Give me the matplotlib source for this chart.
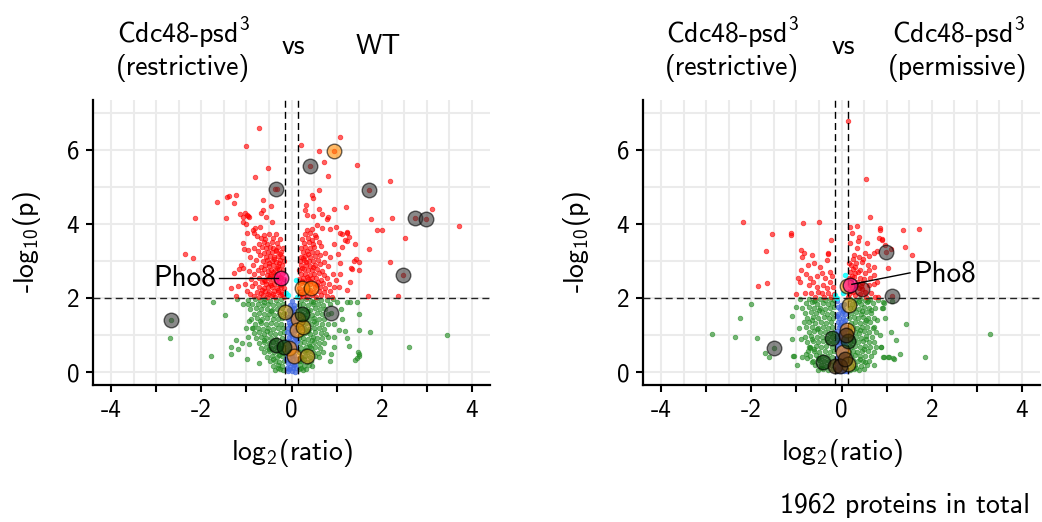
import numpy as np
import matplotlib
matplotlib.use("Agg")
import matplotlib.pyplot as plt
from matplotlib.ticker import MultipleLocator

plt.rcParams['font.family'] = 'cmss10'
plt.rcParams['mathtext.fontset'] = 'custom'
plt.rcParams['mathtext.rm'] = 'cmss10'
plt.rcParams['mathtext.it'] = 'cmss10'
plt.rcParams['axes.unicode_minus'] = False

FC = 0.138  # log2(1.1) fold-change cut-off
PC = 2.0    # -log10(0.01)

# ---------------- restrictive vs WT ----------------
wt_red = [
    # negative arm, outliers
    (-0.72, 6.59), (-1.01, 6.10), (-0.52, 5.50), (-0.82, 5.27), (-0.37, 4.95), (-0.33, 4.95),
    (-1.42, 4.74), (-1.38, 4.75), (-1.24, 4.78), (-1.66, 4.59), (-1.27, 4.56), (-2.14, 4.17),
    (-1.45, 4.17), (-1.14, 4.27), (-0.98, 4.24), (-0.94, 4.18), (-1.08, 4.05), (-1.01, 3.99),
    (-2.36, 3.19), (-2.19, 3.08), (-1.07, 3.48), (-1.06, 3.33), (-0.96, 3.30), (-1.12, 2.90),
    (-1.07, 2.80), (-1.27, 2.67), (-1.18, 2.33), (-1.35, 2.26), (-1.24, 2.05), (-1.16, 2.79),
    (-0.63, 4.65), (-0.45, 4.49), (-0.63, 4.38), (-0.67, 4.29), (-0.57, 4.20), (-1.02, 4.29),
    (-0.97, 4.22), (-1.07, 4.20), (-0.43, 4.06), (-0.69, 3.93), (-0.83, 3.77), (-0.98, 3.75),
    (-0.77, 3.68), (-0.85, 3.85), (-0.80, 3.88),
    # negative arm, core
    (-0.17, 2.04), (-0.26, 2.07), (-0.36, 2.03), (-0.44, 2.06), (-0.55, 2.04), (-0.63, 2.08),
    (-0.72, 2.03), (-0.84, 2.06), (-0.93, 2.10), (-0.20, 2.17), (-0.30, 2.15), (-0.39, 2.19),
    (-0.49, 2.16), (-0.58, 2.18), (-0.68, 2.14), (-0.77, 2.17), (-0.98, 2.20), (-0.16, 2.28),
    (-0.24, 2.30), (-0.33, 2.27), (-0.43, 2.29), (-0.52, 2.31), (-0.61, 2.26), (-0.71, 2.29),
    (-0.88, 2.32), (-0.19, 2.40), (-0.28, 2.42), (-0.38, 2.39), (-0.47, 2.41), (-0.56, 2.38),
    (-0.66, 2.43), (-0.80, 2.40), (-1.02, 2.37), (-0.17, 2.52), (-0.31, 2.55), (-0.41, 2.51),
    (-0.50, 2.53), (-0.60, 2.50), (-0.73, 2.54), (-0.90, 2.52), (-0.21, 2.64), (-0.29, 2.66),
    (-0.37, 2.63), (-0.46, 2.65), (-0.55, 2.62), (-0.65, 2.67), (-0.83, 2.64), (-0.18, 2.76),
    (-0.27, 2.78), (-0.36, 2.75), (-0.45, 2.77), (-0.53, 2.74), (-0.62, 2.79), (-0.74, 2.76),
    (-0.95, 2.73), (-0.22, 2.88), (-0.31, 2.86), (-0.40, 2.89), (-0.50, 2.87), (-0.59, 2.90),
    (-0.68, 2.85), (-0.86, 2.88), (-0.17, 3.00), (-0.26, 3.02), (-0.35, 2.98), (-0.44, 3.01),
    (-0.54, 3.03), (-0.64, 2.99), (-0.78, 3.02), (-0.20, 3.12), (-0.30, 3.14), (-0.39, 3.11),
    (-0.48, 3.13), (-0.57, 3.10), (-0.70, 3.15), (-0.92, 3.12), (-0.24, 3.24), (-0.34, 3.26),
    (-0.43, 3.23), (-0.52, 3.25), (-0.62, 3.22), (-0.75, 3.27), (-0.19, 3.36), (-0.29, 3.38),
    (-0.40, 3.35), (-0.47, 3.37), (-0.56, 3.34), (-0.66, 3.39), (-0.84, 3.36), (-0.32, 3.48),
    (-0.44, 3.50), (-0.55, 3.47), (-0.61, 3.52), (-0.73, 3.46), (-0.26, 3.60), (-0.42, 3.62),
    (-0.58, 3.59), (-0.67, 3.63), (-0.35, 3.72), (-0.50, 3.74), (-0.62, 3.71), (-0.23, 2.53),
    (-0.22, 2.10), (-0.31, 2.22), (-0.41, 2.11), (-0.25, 2.35), (-0.35, 2.46), (-0.45, 2.35),
    (-0.26, 2.58), (-0.40, 2.70), (-0.32, 2.81), (-0.27, 2.94), (-0.38, 3.06), (-0.25, 3.18),
    (-0.34, 3.31), (-0.50, 2.94), (-0.58, 2.45), (-0.52, 2.10), (-0.66, 2.22), (-0.48, 2.59),
    # positive arm, outliers
    (0.21, 6.13), (1.08, 6.34), (0.60, 5.98), (0.94, 5.98), (0.41, 5.57), (0.72, 5.68),
    (0.82, 5.31), (1.46, 5.60), (2.19, 5.15), (1.71, 4.92), (0.61, 4.92), (0.46, 4.78),
    (0.47, 4.69), (1.20, 4.45), (1.77, 4.14), (2.22, 4.15), (2.73, 4.16), (2.98, 4.14),
    (3.12, 4.40), (3.71, 3.95), (1.90, 3.83), (2.00, 3.83), (2.52, 3.62), (1.12, 3.72),
    (1.24, 3.76), (1.24, 3.55), (1.41, 3.47), (1.12, 3.37), (1.71, 3.32), (1.42, 3.05),
    (1.39, 3.00), (1.50, 2.96), (2.18, 2.97), (1.31, 2.82), (1.35, 2.78), (1.50, 2.75),
    (2.48, 2.62), (1.30, 2.42), (1.24, 2.21), (1.69, 2.05), (2.36, 2.06), (1.08, 2.65),
    (1.08, 2.95), (0.32, 4.51), (0.31, 4.38), (0.35, 4.24), (0.48, 4.22), (0.61, 4.41),
    (0.68, 4.26), (0.79, 4.13), (0.82, 4.20), (0.94, 4.41), (0.57, 3.97), (0.68, 3.88),
    (0.85, 3.86), (0.99, 3.93), (1.08, 3.75), (1.23, 3.79), (1.19, 3.57), (1.27, 3.66),
    (0.95, 3.45), (1.02, 3.20), (0.98, 2.50), (1.05, 2.30),
    # positive arm, core
    (0.16, 2.04), (0.25, 2.06), (0.34, 2.03), (0.45, 2.07), (0.55, 2.04), (0.66, 2.08),
    (0.78, 2.05), (0.90, 2.03), (0.19, 2.16), (0.29, 2.18), (0.39, 2.15), (0.50, 2.17),
    (0.61, 2.19), (0.72, 2.15), (0.86, 2.18), (0.17, 2.28), (0.33, 2.30), (0.52, 2.29),
    (0.63, 2.31), (0.75, 2.27), (0.95, 2.30), (0.20, 2.40), (0.30, 2.42), (0.40, 2.39),
    (0.49, 2.41), (0.59, 2.43), (0.70, 2.40), (0.83, 2.38), (0.16, 2.52), (0.26, 2.54),
    (0.36, 2.51), (0.45, 2.53), (0.55, 2.55), (0.66, 2.50), (0.79, 2.53), (0.21, 2.64),
    (0.31, 2.66), (0.41, 2.63), (0.50, 2.65), (0.61, 2.67), (0.73, 2.62), (0.92, 2.65),
    (0.17, 2.76), (0.27, 2.78), (0.37, 2.75), (0.46, 2.77), (0.56, 2.79), (0.68, 2.74),
    (0.22, 2.88), (0.32, 2.90), (0.42, 2.87), (0.52, 2.89), (0.63, 2.91), (0.80, 2.86),
    (0.18, 3.00), (0.28, 3.02), (0.38, 2.99), (0.47, 3.01), (0.58, 3.03), (0.71, 2.98),
    (0.21, 3.12), (0.31, 3.14), (0.41, 3.11), (0.51, 3.13), (0.64, 3.15), (0.86, 3.10),
    (0.25, 3.24), (0.35, 3.26), (0.45, 3.23), (0.57, 3.25), (0.74, 3.22), (0.20, 3.36),
    (0.30, 3.38), (0.40, 3.35), (0.50, 3.37), (0.66, 3.40), (0.27, 3.48), (0.38, 3.50),
    (0.48, 3.47), (0.62, 3.52), (0.23, 3.60), (0.36, 3.62), (0.45, 3.58), (0.55, 3.64),
    (0.30, 3.72), (0.42, 3.75), (0.52, 3.70), (0.34, 3.84), (0.46, 3.86),
    (0.21, 2.10), (0.28, 2.25), (0.24, 2.47), (0.35, 2.58), (0.23, 2.82), (0.33, 2.96),
    (0.26, 3.07), (0.36, 3.19), (0.42, 2.46), (0.41, 2.22), (0.57, 2.36), (0.47, 2.84),
]

wt_green = [
    # scattered
    (-1.73, 1.88), (-1.47, 1.55), (-2.70, 0.92), (-1.79, 0.43), (-1.35, 0.50), (-1.33, 0.68),
    (-1.24, 0.86), (-1.18, 0.63), (-1.09, 0.78), (-0.94, 0.75), (-0.97, 0.95), (-0.99, 0.34),
    (-1.07, 1.85), (-0.97, 1.84), (-1.00, 1.19), (-0.87, 1.20), (-0.95, 1.37), (-1.21, 1.98),
    (-0.72, 0.25), (-2.68, 1.40), (1.01, 1.90), (1.23, 1.90), (1.45, 1.90), (1.49, 1.57),
    (1.73, 1.09), (1.49, 1.14), (1.23, 0.91), (1.27, 0.70), (1.49, 0.50), (1.45, 0.37),
    (0.94, 0.68), (0.88, 0.50), (0.80, 0.95), (0.94, 0.95), (1.05, 1.14), (2.61, 0.68),
    (3.44, 1.00), (1.12, 1.44), (1.18, 1.11), (1.30, 1.89), (1.47, 0.55), (1.50, 0.43),
    (1.41, 0.32), (0.88, 1.60), (1.10, 1.70), (0.95, 1.30), (0.85, 0.30),
    # core
    (-0.36, 0.06), (-0.26, 0.08), (-0.18, 0.05), (0.17, 0.07), (0.25, 0.05), (0.33, 0.08),
    (-0.41, 0.17), (-0.31, 0.19), (-0.20, 0.16), (0.19, 0.18), (0.28, 0.16), (0.38, 0.19), (0.45, 0.17),
    (-0.47, 0.29), (-0.37, 0.31), (-0.27, 0.28), (-0.17, 0.30), (0.16, 0.29), (0.24, 0.31),
    (0.34, 0.28), (0.44, 0.30),
    (-0.55, 0.41), (-0.44, 0.43), (-0.33, 0.40), (-0.22, 0.42), (0.21, 0.41), (0.30, 0.43),
    (0.40, 0.40), (0.51, 0.42), (0.62, 0.41),
    (-0.62, 0.54), (-0.50, 0.56), (-0.39, 0.53), (-0.28, 0.55), (-0.18, 0.52), (0.17, 0.54),
    (0.27, 0.56), (0.37, 0.53), (0.48, 0.55), (0.58, 0.52), (0.69, 0.54),
    (-0.68, 0.66), (-0.57, 0.68), (-0.45, 0.65), (-0.34, 0.67), (-0.23, 0.64), (0.22, 0.66),
    (0.32, 0.68), (0.43, 0.65), (0.53, 0.67), (0.64, 0.64),
    (-0.73, 0.79), (-0.61, 0.81), (-0.50, 0.78), (-0.40, 0.80), (-0.29, 0.77), (-0.17, 0.79),
    (0.18, 0.78), (0.28, 0.80), (0.39, 0.77), (0.50, 0.81), (0.60, 0.79), (0.72, 0.78),
    (-0.79, 0.92), (-0.67, 0.94), (-0.56, 0.91), (-0.45, 0.93), (-0.34, 0.90), (-0.22, 0.92),
    (0.16, 0.91), (0.26, 0.93), (0.36, 0.90), (0.47, 0.94), (0.57, 0.92), (0.68, 0.91),
    (-0.83, 1.05), (-0.71, 1.07), (-0.60, 1.04), (-0.48, 1.06), (-0.37, 1.03), (-0.26, 1.05),
    (-0.16, 1.07), (0.21, 1.04), (0.31, 1.06), (0.42, 1.03), (0.53, 1.07), (0.65, 1.05), (0.76, 1.04),
    (-0.86, 1.18), (-0.74, 1.20), (-0.63, 1.17), (-0.52, 1.19), (-0.41, 1.16), (-0.30, 1.18),
    (-0.19, 1.20), (0.17, 1.17), (0.27, 1.19), (0.38, 1.16), (0.49, 1.20), (0.60, 1.18), (0.71, 1.17),
    (-0.80, 1.31), (-0.68, 1.33), (-0.57, 1.30), (-0.45, 1.32), (-0.34, 1.29), (-0.23, 1.31),
    (0.22, 1.30), (0.33, 1.32), (0.44, 1.29), (0.55, 1.33), (0.67, 1.31), (0.80, 1.30),
    (-0.90, 1.44), (-0.77, 1.46), (-0.65, 1.43), (-0.54, 1.45), (-0.42, 1.42), (-0.31, 1.44),
    (-0.20, 1.46), (0.18, 1.43), (0.29, 1.45), (0.39, 1.42), (0.50, 1.46), (0.61, 1.44), (0.73, 1.43),
    (-0.84, 1.57), (-0.72, 1.59), (-0.60, 1.56), (-0.49, 1.58), (-0.38, 1.55), (-0.27, 1.57),
    (-0.17, 1.59), (0.23, 1.56), (0.34, 1.58), (0.45, 1.55), (0.56, 1.59), (0.68, 1.57), (0.82, 1.56),
    (-0.93, 1.70), (-0.79, 1.72), (-0.67, 1.69), (-0.55, 1.71), (-0.44, 1.68), (-0.33, 1.70),
    (-0.22, 1.72), (0.19, 1.69), (0.30, 1.71), (0.41, 1.68), (0.51, 1.72), (0.63, 1.70), (0.75, 1.69),
    (-0.88, 1.83), (-0.75, 1.85), (-0.63, 1.82), (-0.52, 1.84), (-0.40, 1.81), (-0.29, 1.83),
    (-0.18, 1.85), (0.16, 1.82), (0.26, 1.84), (0.37, 1.81), (0.48, 1.85), (0.59, 1.83),
    (0.70, 1.82), (0.86, 1.84),
    (-0.97, 1.95), (-0.82, 1.97), (-0.70, 1.94), (-0.58, 1.96), (-0.47, 1.93), (-0.35, 1.95),
    (-0.24, 1.97), (0.21, 1.94), (0.32, 1.96), (0.43, 1.93), (0.54, 1.97), (0.66, 1.95),
    (0.78, 1.94), (0.91, 1.96),
    (-0.30, 0.12), (0.22, 0.12), (-0.42, 0.36), (0.28, 0.36), (-0.50, 0.61), (0.33, 0.60),
    (-0.62, 0.86), (0.45, 0.86), (-0.55, 1.12), (0.36, 1.11), (-0.70, 1.38), (0.50, 1.38),
    (-0.45, 1.64), (0.37, 1.64), (-0.60, 1.90), (0.48, 1.90), (-0.28, 0.47), (0.40, 0.71),
]

wt_blue = [
    (-0.08, 0.02), (0.00, 0.03), (0.07, 0.01), (-0.11, 0.12), (-0.04, 0.13), (0.03, 0.11),
    (0.10, 0.12), (-0.07, 0.24), (0.01, 0.25), (0.08, 0.23), (-0.12, 0.36), (-0.05, 0.37),
    (0.04, 0.35), (0.11, 0.36), (-0.09, 0.48), (-0.02, 0.49), (0.06, 0.47), (-0.11, 0.60),
    (-0.04, 0.61), (0.03, 0.59), (0.10, 0.60), (-0.07, 0.72), (0.01, 0.73), (0.09, 0.71),
    (-0.10, 0.84), (-0.03, 0.85), (0.05, 0.83), (0.12, 0.84), (-0.06, 0.96), (0.02, 0.97),
    (0.08, 0.95), (-0.09, 1.08), (-0.02, 1.09), (0.05, 1.07), (-0.07, 1.20), (0.01, 1.21),
    (0.10, 1.19), (-0.05, 1.32), (0.03, 1.33), (-0.08, 1.44), (-0.01, 1.45), (0.06, 1.43),
    (-0.04, 1.56), (0.04, 1.57), (-0.06, 1.68), (0.02, 1.69), (-0.03, 1.80), (0.05, 1.81),
    (0.00, 1.92), (-0.05, 0.07), (0.05, 0.18), (-0.03, 0.30), (0.02, 0.42), (-0.06, 0.54),
    (0.06, 0.66), (-0.04, 0.78), (0.09, 0.90), (-0.01, 1.02), (0.08, 1.13), (-0.04, 1.26),
    (0.07, 1.38), (-0.07, 1.50), (0.01, 1.62), (0.06, 1.74),
]

wt_cyan = [(-0.08, 2.08), (0.12, 2.04), (-0.13, 2.13), (0.11, 2.49)]

# highlighted protein groups
wt_grey = [(-0.35, 4.95), (0.41, 5.57), (1.71, 4.92), (2.73, 4.16), (2.98, 4.14),
           (2.48, 2.62), (-2.68, 1.40), (0.88, 1.60)]
wt_orange = [(0.94, 5.98), (0.24, 2.26), (0.43, 2.26), (0.14, 1.43), (0.13, 1.14),
             (-0.06, 0.64), (0.05, 0.43)]
wt_gold = [(-0.15, 1.62), (0.26, 1.22), (0.35, 0.43)]
wt_dkgreen = [(0.24, 1.57), (-0.35, 0.73), (-0.17, 0.68)]
wt_brown = []
wt_dkred = []
wt_pho8 = (-0.23, 2.53)

# ---------------- restrictive vs permissive ----------------
perm_red = [
    (-2.19, 4.05), (-1.55, 3.73), (-1.13, 3.75), (-1.12, 3.70), (-1.68, 3.27), (-1.84, 2.32),
    (-1.66, 2.41), (-0.86, 4.02), (-0.49, 4.05), (-0.90, 3.30), (-0.84, 3.21), (-0.88, 3.12),
    (-0.24, 3.57), (-0.30, 3.21), (-0.66, 3.15), (-0.29, 3.19), (-0.33, 3.03), (-0.90, 2.76),
    (-0.79, 2.65), (-0.91, 2.44), (-0.69, 2.53), (-0.64, 2.44), (-0.73, 2.35), (-0.82, 2.13),
    (-0.55, 2.31), (-0.43, 2.67), (-0.36, 2.53), (-0.25, 2.71), (-0.25, 2.44), (-0.32, 2.26),
    (-0.43, 2.13), (-0.51, 2.17), (-0.58, 2.04), (-0.29, 2.13), (-0.23, 2.04), (-0.38, 2.03),
    (-0.67, 2.13), (-0.74, 2.89), (-0.62, 2.94), (-0.18, 2.30), (-0.20, 2.60), (-0.17, 2.10),
    (-0.48, 2.85), (-0.55, 2.60), (-0.40, 2.35), (-1.00, 2.10), (-0.97, 2.55),
    (0.15, 6.78), (0.55, 5.21), (0.63, 4.20), (0.19, 3.93), (0.34, 3.95), (0.23, 3.75),
    (0.38, 3.66), (0.19, 3.48), (0.34, 3.34), (0.56, 3.48), (0.86, 3.88), (0.83, 3.61),
    (0.89, 3.57), (0.78, 3.28), (0.73, 3.21), (0.27, 3.16), (0.38, 3.12), (0.52, 3.21),
    (0.60, 3.14), (0.45, 2.98), (0.58, 2.89), (0.71, 2.85), (0.21, 2.89), (0.30, 2.85),
    (0.18, 2.71), (0.29, 2.67), (0.41, 2.76), (0.51, 2.67), (0.63, 2.53), (0.72, 2.62),
    (0.78, 2.44), (0.21, 2.49), (0.34, 2.44), (0.46, 2.40), (0.60, 2.35), (0.24, 2.31),
    (0.38, 2.26), (0.52, 2.17), (0.66, 2.13), (0.74, 2.04), (0.30, 2.08), (0.54, 2.04),
    (0.15, 2.04), (0.82, 2.02), (0.86, 3.84), (1.36, 3.84), (1.72, 3.86), (0.89, 3.59),
    (0.97, 3.43), (1.41, 3.39), (1.10, 3.33), (1.57, 3.16), (1.02, 2.81), (0.98, 3.23),
    (1.13, 2.05), (0.45, 2.24), (0.36, 3.55), (0.25, 3.05), (0.42, 2.55), (0.20, 2.20),
    (0.28, 2.58), (0.47, 3.05), (0.17, 2.95), (0.62, 2.75), (0.71, 2.38), (0.40, 2.10),
    (0.19, 2.35), (0.17, 2.12), (0.26, 2.15), (0.33, 2.36), (0.23, 2.60), (0.36, 2.70),
    (0.26, 2.78), (0.44, 2.32), (0.50, 2.52), (0.16, 2.55), (0.33, 2.95),
]

perm_green = [
    # scattered
    (-2.00, 1.85), (-2.26, 1.47), (-2.87, 1.03), (-2.36, 0.94), (-1.87, 0.91), (-1.50, 0.64),
    (-1.70, 0.51), (-1.60, 0.41), (-1.10, 1.51), (-1.10, 0.90), (-1.08, 0.42), (-0.90, 0.88),
    (-1.05, 0.43), (-0.88, 0.41), (-0.79, 0.50), (-0.77, 0.37), (-0.66, 0.28), (-0.73, 0.68),
    (-0.69, 0.64), (0.58, 1.93), (0.66, 1.68), (0.78, 1.41), (0.71, 1.22), (0.86, 1.00),
    (0.76, 0.67), (0.88, 0.67), (0.95, 0.41), (1.04, 0.41), (1.15, 0.37), (1.30, 0.48),
    (1.21, 0.86), (1.10, 1.09), (0.97, 1.47), (0.89, 1.72), (0.95, 1.86), (1.44, 1.29),
    (1.85, 0.40), (3.29, 1.02), (0.71, 0.19), (0.52, 0.28), (1.13, 1.93), (-0.95, 1.20),
    (-1.00, 1.75), (-0.98, 0.20), (0.91, 1.90), (0.92, 1.72), (0.88, 0.68), (0.93, 0.40),
    (1.06, 0.40), (1.16, 0.36),
    # core
    (-0.52, 0.06), (-0.40, 0.08), (-0.29, 0.05), (-0.19, 0.07), (0.18, 0.06), (0.27, 0.08),
    (0.38, 0.05), (0.50, 0.07),
    (-0.58, 0.18), (-0.46, 0.20), (-0.34, 0.17), (-0.23, 0.19), (0.21, 0.18), (0.31, 0.20),
    (0.43, 0.17), (0.56, 0.19),
    (-0.63, 0.30), (-0.50, 0.32), (-0.39, 0.29), (-0.27, 0.31), (-0.17, 0.28), (0.16, 0.30),
    (0.25, 0.32), (0.36, 0.29), (0.48, 0.31), (0.61, 0.30),
    (-0.69, 0.43), (-0.56, 0.45), (-0.44, 0.42), (-0.32, 0.44), (-0.21, 0.41), (0.20, 0.43),
    (0.30, 0.45), (0.41, 0.42), (0.53, 0.44), (0.66, 0.43),
    (-0.74, 0.56), (-0.61, 0.58), (-0.49, 0.55), (-0.37, 0.57), (-0.25, 0.54), (-0.16, 0.56),
    (0.17, 0.55), (0.26, 0.57), (0.35, 0.54), (0.46, 0.58), (0.58, 0.56), (0.71, 0.55),
    (-0.70, 0.69), (-0.57, 0.71), (-0.45, 0.68), (-0.34, 0.70), (-0.22, 0.67), (0.22, 0.69),
    (0.31, 0.71), (0.42, 0.68), (0.53, 0.70), (0.64, 0.67),
    (-0.76, 0.82), (-0.63, 0.84), (-0.51, 0.81), (-0.40, 0.83), (-0.29, 0.80), (-0.18, 0.82),
    (0.18, 0.81), (0.27, 0.83), (0.37, 0.80), (0.48, 0.84), (0.60, 0.82), (0.73, 0.81),
    (-0.81, 0.95), (-0.68, 0.97), (-0.55, 0.94), (-0.44, 0.96), (-0.33, 0.93), (-0.22, 0.95),
    (0.23, 0.94), (0.33, 0.96), (0.44, 0.93), (0.55, 0.97), (0.67, 0.95),
    (-0.73, 1.08), (-0.60, 1.10), (-0.48, 1.07), (-0.37, 1.09), (-0.26, 1.06), (-0.16, 1.08),
    (0.19, 1.07), (0.29, 1.09), (0.39, 1.06), (0.50, 1.10), (0.62, 1.08), (0.76, 1.07),
    (-0.79, 1.21), (-0.66, 1.23), (-0.53, 1.20), (-0.41, 1.22), (-0.30, 1.19), (-0.20, 1.21),
    (0.16, 1.20), (0.25, 1.22), (0.35, 1.19), (0.46, 1.23), (0.57, 1.21), (0.69, 1.20),
    (-0.84, 1.34), (-0.71, 1.36), (-0.58, 1.33), (-0.46, 1.35), (-0.35, 1.32), (-0.24, 1.34),
    (0.21, 1.33), (0.31, 1.35), (0.41, 1.32), (0.52, 1.36), (0.64, 1.34),
    (-0.76, 1.47), (-0.63, 1.49), (-0.51, 1.46), (-0.39, 1.48), (-0.28, 1.45), (-0.18, 1.47),
    (0.17, 1.46), (0.27, 1.48), (0.37, 1.45), (0.48, 1.49), (0.59, 1.47), (0.72, 1.46),
    (-0.81, 1.60), (-0.68, 1.62), (-0.56, 1.59), (-0.44, 1.61), (-0.33, 1.58), (-0.22, 1.60),
    (0.22, 1.59), (0.33, 1.61), (0.43, 1.58), (0.54, 1.62), (0.66, 1.60),
    (-0.87, 1.73), (-0.73, 1.75), (-0.60, 1.72), (-0.48, 1.74), (-0.37, 1.71), (-0.26, 1.73),
    (-0.17, 1.75), (0.18, 1.72), (0.28, 1.74), (0.38, 1.71), (0.49, 1.75), (0.61, 1.73), (0.75, 1.72),
    (-0.79, 1.86), (-0.66, 1.88), (-0.54, 1.85), (-0.42, 1.87), (-0.31, 1.84), (-0.21, 1.86),
    (0.23, 1.85), (0.33, 1.87), (0.44, 1.84), (0.56, 1.88), (0.69, 1.86),
    (-0.92, 1.96), (-0.72, 1.97), (-0.59, 1.95), (-0.47, 1.96), (-0.36, 1.94), (-0.25, 1.97),
    (-0.16, 1.95), (0.19, 1.96), (0.29, 1.94), (0.40, 1.97), (0.51, 1.95), (0.63, 1.96), (0.80, 1.94),
    (-0.45, 0.12), (0.33, 0.12), (-0.52, 0.37), (0.42, 0.36), (-0.60, 0.62), (0.50, 0.63),
    (-0.65, 0.89), (0.54, 0.88), (-0.55, 1.15), (0.41, 1.14), (-0.65, 1.41), (0.55, 1.41),
    (-0.50, 1.67), (0.45, 1.66), (-0.60, 1.91), (0.38, 1.91),
]

perm_blue = [
    (-0.09, 0.03), (-0.01, 0.02), (0.06, 0.04), (0.12, 0.03), (-0.12, 0.14), (-0.05, 0.15),
    (0.02, 0.13), (0.09, 0.14), (-0.08, 0.26), (0.00, 0.27), (0.07, 0.25), (-0.11, 0.38),
    (-0.04, 0.39), (0.04, 0.37), (0.11, 0.38), (-0.07, 0.50), (0.01, 0.51), (0.08, 0.49),
    (-0.10, 0.62), (-0.03, 0.63), (0.05, 0.61), (0.12, 0.62), (-0.08, 0.74), (0.00, 0.75),
    (0.07, 0.73), (-0.11, 0.86), (-0.04, 0.87), (0.03, 0.85), (0.10, 0.86), (-0.07, 0.98),
    (0.01, 0.99), (0.08, 0.97), (-0.09, 1.10), (-0.02, 1.11), (0.06, 1.09), (-0.06, 1.22),
    (0.02, 1.23), (0.09, 1.21), (-0.08, 1.34), (-0.01, 1.35), (0.05, 1.33), (-0.05, 1.46),
    (0.03, 1.47), (-0.07, 1.58), (0.01, 1.59), (0.07, 1.57), (-0.04, 1.70), (0.04, 1.71),
    (-0.02, 1.82), (0.05, 1.84), (-0.10, 1.93), (-0.04, 0.08), (0.04, 0.20), (-0.03, 0.32),
    (0.03, 0.44), (-0.05, 0.56), (0.08, 0.68), (-0.05, 0.80), (0.06, 0.92), (-0.03, 1.04),
    (0.09, 1.16), (-0.04, 1.28), (0.08, 1.40), (-0.09, 1.52), (0.03, 1.64), (-0.07, 1.76),
]

perm_cyan = [(-0.14, 2.08), (0.04, 2.13), (0.07, 2.62), (-0.10, 2.01)]

perm_grey = [(-1.50, 0.64), (0.98, 3.23), (1.13, 2.05)]
perm_orange = [(0.12, 2.32), (0.12, 1.14), (0.03, 0.55)]
perm_gold = [(0.17, 1.81), (0.15, 0.21)]
perm_dkgreen = [(-0.21, 0.91), (0.14, 0.85), (-0.40, 0.28)]
perm_brown = [(0.10, 1.00), (-0.14, 0.16), (-0.03, 0.16), (0.08, 0.34)]
perm_dkred = [(0.45, 2.24)]
perm_pho8 = (0.19, 2.35)


def pts(lst):
    a = np.array(lst, dtype=float)
    return a[:, 0], a[:, 1]


def small(ax, lst, col, a=0.62):
    x, y = pts(lst)
    ax.scatter(x, y, s=11, c=col, alpha=a, edgecolors=col, linewidths=0.6, zorder=3)


def big(ax, lst, col, a=0.6):
    if not lst:
        return
    x, y = pts(lst)
    ax.scatter(x, y, s=110, c=col, alpha=a, edgecolors='black', linewidths=1.0, zorder=5)


def volcano(ax, red, green, blue, cyan, groups, pho8):
    ax.set_xlim(-4.4, 4.4)
    ax.set_ylim(-0.35, 7.35)
    ax.set_xticks(np.arange(-4, 5, 1))
    ax.set_xticklabels(['-4', '', '-2', '', '0', '', '2', '', '4'])
    ax.xaxis.set_minor_locator(MultipleLocator(0.5))
    ax.set_yticks([0, 2, 4, 6])
    ax.yaxis.set_minor_locator(MultipleLocator(1))
    ax.grid(True, which='both', color='#EBEBEB', lw=1.5, zorder=0)
    ax.set_axisbelow(True)
    ax.tick_params(which='major', length=5, width=1.5, labelsize=18, pad=5, color='black')
    ax.tick_params(which='minor', length=0)
    for s in ['top', 'right']:
        ax.spines[s].set_visible(False)
    for s in ['left', 'bottom']:
        ax.spines[s].set_linewidth(1.6)

    small(ax, green, '#228B22')
    small(ax, red, '#FF0000')
    small(ax, blue, '#4169E1', 0.75)
    small(ax, cyan, '#00FFFF', 0.8)

    ax.axhline(PC, color='#222222', lw=1.0, ls=(0, (5, 3)), zorder=4)
    ax.axvline(-FC, color='black', lw=1.0, ls=(0, (5, 3)), zorder=4)
    ax.axvline(FC, color='black', lw=1.0, ls=(0, (5, 3)), zorder=4)

    grey, orange, gold, dkgreen, brown, dkred = groups
    big(ax, grey, '#3a3a3a', 0.6)
    big(ax, orange, '#FF8C00', 0.6)
    big(ax, gold, '#B8860B', 0.65)
    big(ax, dkgreen, '#0B3D0B', 0.65)
    big(ax, brown, '#4A2A0A', 0.65)
    big(ax, dkred, '#8B0000', 0.6)
    big(ax, [pho8], '#FF1493', 0.7)

    ax.set_xlabel(r'log$_2$(ratio)', fontsize=20, labelpad=11)
    ax.set_ylabel(r'-log$_{10}$(p)', fontsize=20, labelpad=17)


fig = plt.figure(figsize=(10.42, 5.22), dpi=100)
ax1 = fig.add_axes([93 / 1042, 137 / 522, 397 / 1042, 285 / 522])
ax2 = fig.add_axes([643 / 1042, 137 / 522, 397 / 1042, 285 / 522])

volcano(ax1, wt_red, wt_green, wt_blue, wt_cyan,
        (wt_grey, wt_orange, wt_gold, wt_dkgreen, wt_brown, wt_dkred), wt_pho8)
volcano(ax2, perm_red, perm_green, perm_blue, perm_cyan,
        (perm_grey, perm_orange, perm_gold, perm_dkgreen, perm_brown, perm_dkred), perm_pho8)

# Pho8 labels
ax1.plot([-1.61, wt_pho8[0] - 0.08], [wt_pho8[1], wt_pho8[1]], color='black', lw=1.0, zorder=6)
ax1.text(-1.68, wt_pho8[1], 'Pho8', fontsize=21, ha='right', va='center', zorder=6)
ax2.plot([perm_pho8[0] + 0.04, 1.52], [perm_pho8[1] + 0.02, 2.68], color='black', lw=1.0, zorder=6)
ax2.text(1.59, 2.65, 'Pho8', fontsize=21, ha='left', va='center', zorder=6)

# comparison headers
W, H = 1042, 522


def ftext(px, py, s, **kw):
    fig.text(px / W, 1 - py / H, s, ha='center', va='center', fontsize=20,
             linespacing=1.2, **kw)


ftext(183, 49, 'Cdc48-psd$^3$\n(restrictive)')
ftext(293, 47, 'vs')
ftext(378, 47, 'WT')
ftext(732, 49, 'Cdc48-psd$^3$\n(restrictive)')
ftext(843, 47, 'vs')
ftext(958, 49, 'Cdc48-psd$^3$\n(permissive)')

fig.text(1030 / W, 1 - 506 / H, '1962 proteins in total', ha='right', va='center', fontsize=20)

fig.savefig('out.png', dpi=100)
